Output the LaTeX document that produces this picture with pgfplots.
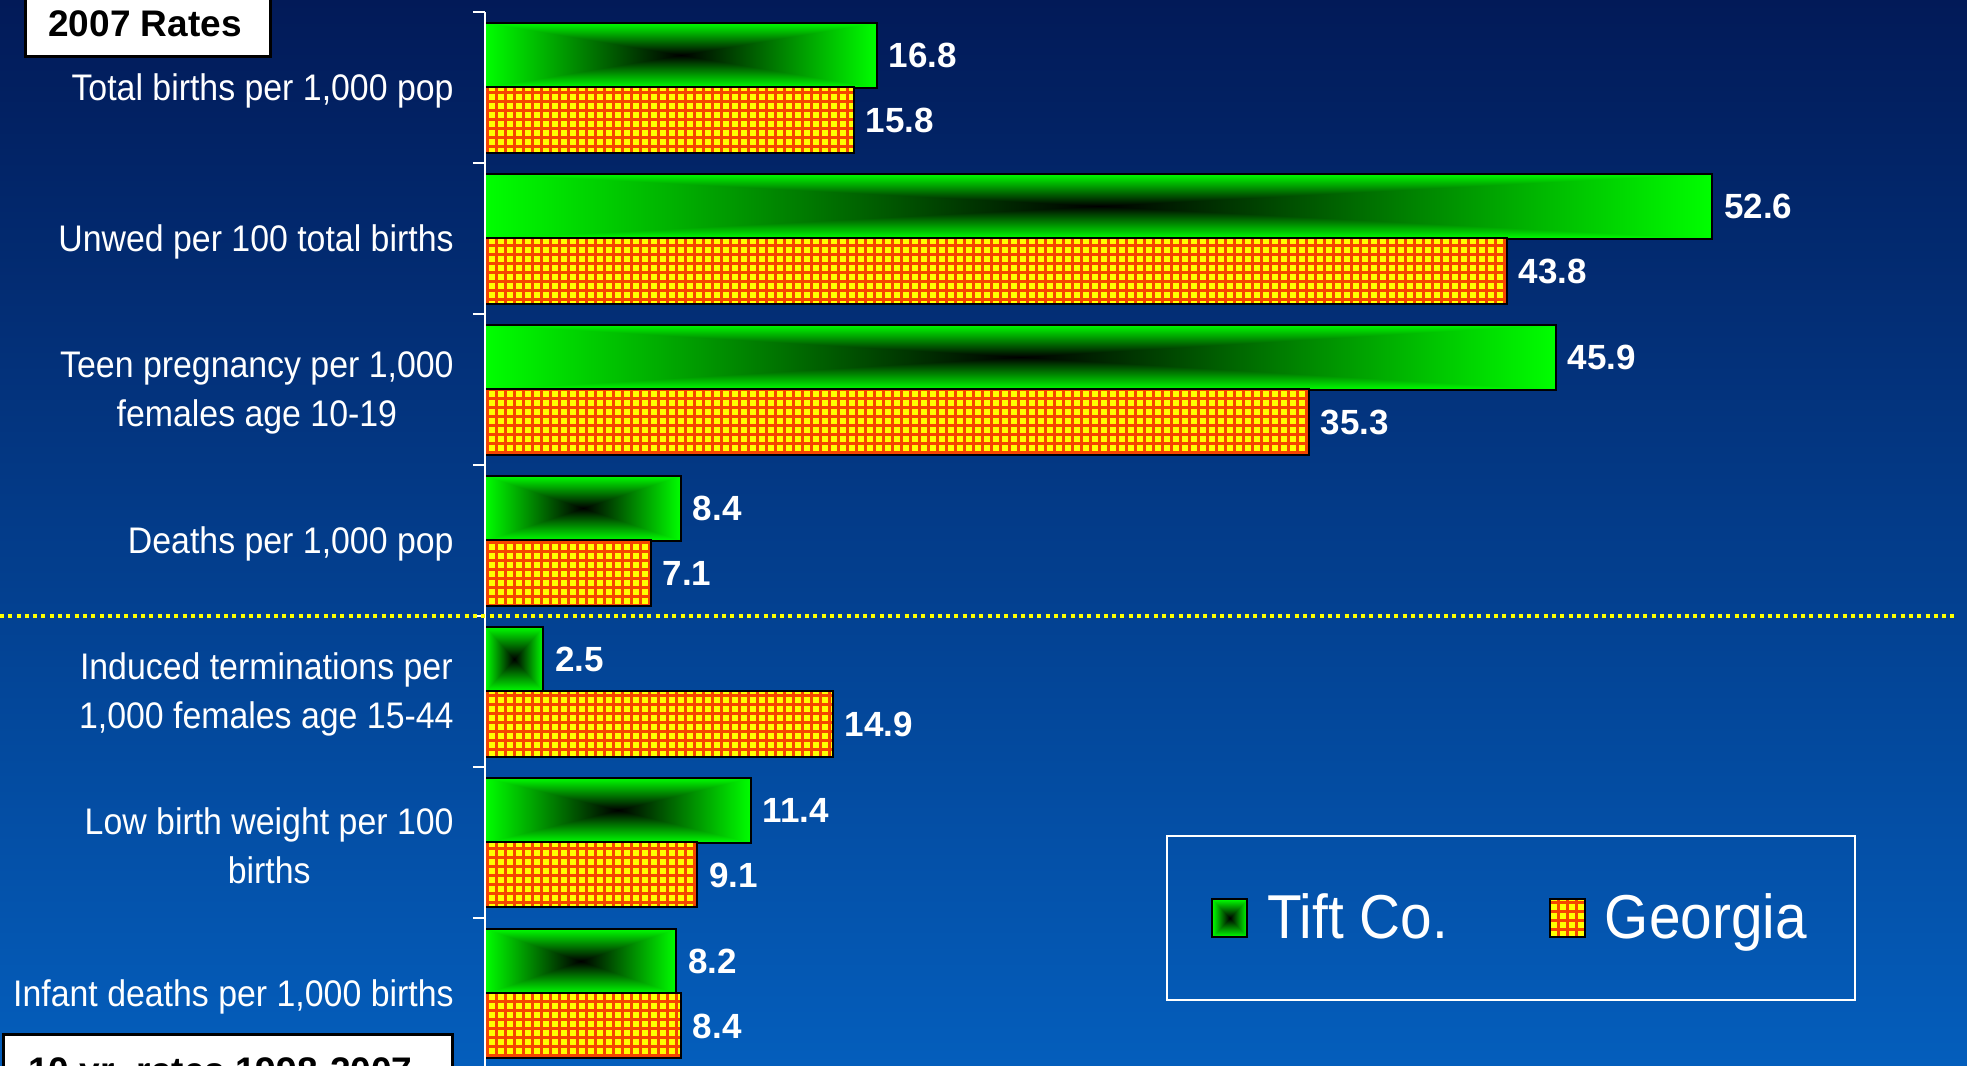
\documentclass[border=0pt]{standalone}
\usepackage{fontspec}
\setmainfont{Liberation Sans}
\newfontfamily\narrow[FakeStretch=0.915]{Liberation Sans}
\usepackage{pgfplots}
\pgfplotsset{compat=1.18}
\usetikzlibrary{patterns}

\definecolor{bgtop}{RGB}{2,26,88}
\definecolor{bgbot}{RGB}{4,94,188}
\definecolor{cellyel}{RGB}{255,255,0}
\definecolor{cellred}{RGB}{245,70,0}
\definecolor{dotyel}{RGB}{255,255,0}

% green bars: dark centre, bright green edges (rectangular "from centre" gradient)
\pgfdeclarefunctionalshading{rectglow}{\pgfpoint{-50bp}{-50bp}}{\pgfpoint{50bp}{50bp}}{}{
  abs exch abs 2 copy lt {exch} if pop 25 div dup 1 gt {pop 1} if 0 exch 0
}

% orange bars: small red grid on yellow
\pgfdeclarepatternformonly{cellgrid}{\pgfpoint{-0.1pt}{-0.1pt}}{\pgfpoint{4.6pt}{4.6pt}}{\pgfpoint{4.5pt}{4.5pt}}{%
  \pgfpathrectangle{\pgfpointorigin}{\pgfpoint{4.5pt}{1.4pt}}%
  \pgfpathrectangle{\pgfpointorigin}{\pgfpoint{1.4pt}{4.5pt}}%
  \pgfusepath{fill}}

\pgfplotsset{
  swatch/.style={legend image code/.code={\draw[##1, line width=1pt] (0pt,-9.4pt) rectangle (17.5pt,9.4pt);}},
  % one plot per green bar, so that each bar gets its own shading
  tift/.style={xbar, bar width=0.4305, bar shift=-0.2152, draw=black, line width=1pt,
    shade, shading=rectglow, swatch,
    every node near coord/.append style={yshift=16.25pt}},
}

\begin{document}
\begin{tikzpicture}
\useasboundingbox (0,0) rectangle (983.5pt,533pt);
\clip (0,0) rectangle (983.5pt,533pt);
\shade[top color=bgtop, bottom color=bgbot] (0,0) rectangle (983.5pt,533pt);

\begin{axis}[
    at={(242.5pt,533pt)}, anchor=north west,
    scale only axis,
    width=741pt, height=534.5pt,
    xmin=0, xmax=63.52,
    ymin=-0.5795, ymax=6.5,
    y dir=reverse,
    clip=false,
    axis line style={draw=none},
    xtick=\empty,
    ytick={-0.5,0.5,1.5,2.5,3.5,4.5,5.5,6.5},
    y tick label as interval,
    yticklabels={
        {Total births per 1,000 pop},
        {Unwed per 100 total births},
        {Teen pregnancy per 1,000\\females age 10-19},
        {Deaths per 1,000 pop},
        {Induced terminations per\\1,000 females age 15-44},
        {Low birth weight per 100\\births},
        {Infant deaths per 1,000 births}},
    ytick pos=left,
    tick align=outside,
    major tick length=6pt,
    tick style={white, line width=1pt},
    yticklabel style={font=\narrow\fontsize{18.5}{24.5}\selectfont, text=white,
        align=center, inner sep=0pt, xshift=-9.5pt, yshift=-1.5pt},
    point meta=x,
    nodes near coords={\pgfmathprintnumber[fixed,fixed zerofill,precision=1,assume math mode=true]{\pgfplotspointmeta}},
    nodes near coords align=horizontal,
    every node near coord/.append style={font=\bfseries\fontsize{17.5}{20}\selectfont,
        text=white, inner sep=0pt, anchor=west, xshift=5.5pt},
    legend columns=2,
    legend style={at={(0.6923,0.1413)}, anchor=center, draw=white, line width=1pt,
        fill=none, text=white, font=\narrow\fontsize{31}{34}\selectfont,
        inner xsep=22pt, inner ysep=27pt,
        /tikz/every odd column/.append style={column sep=7.5pt},
        /tikz/every even column/.append style={column sep=48.5pt}},
]

% Tift Co.
\addplot[tift] coordinates {(16.8,0)};
\addplot[tift, forget plot] coordinates {(52.6,1)};
\addplot[tift, forget plot] coordinates {(45.9,2)};
\addplot[tift, forget plot] coordinates {(8.4,3)};
\addplot[tift, forget plot] coordinates {(2.5,4)};
\addplot[tift, forget plot] coordinates {(11.4,5)};
\addplot[tift, forget plot] coordinates {(8.2,6)};

% Georgia
\addplot[xbar, bar width=0.4305, bar shift=0.2152, draw=black, line width=1pt,
    fill=cellyel, postaction={pattern=cellgrid, pattern color=cellred}, swatch,
    every node near coord/.append style={yshift=-16.25pt}]
    coordinates {(15.8,0) (43.8,1) (35.3,2) (7.1,3) (14.9,4) (9.1,5) (8.4,6)};

\legend{Tift Co., Georgia}

\draw[white, line width=1pt] (axis cs:0,-0.5) -- (axis cs:0,6.5);
\draw[dotyel, line width=2pt, dash pattern=on 2pt off 2.15pt] (axis cs:-20.79,3.5) -- (axis cs:63.1,3.5);
\end{axis}

% caption boxes, top left and (cut off) bottom left
\node[draw=black, line width=1.5pt, fill=white, minimum width=122.5pt, minimum height=33.5pt,
    inner sep=0pt] at (73.75pt,521.25pt) {};
\node[anchor=base west, inner sep=0pt, font=\bfseries\fontsize{18.5}{20}\selectfont]
    at (24pt,514.65pt) {2007 Rates};
\node[draw=black, line width=1.5pt, fill=white, minimum width=224.5pt, minimum height=32.5pt,
    inner sep=0pt] at (113.75pt,-0.75pt) {};
\node[anchor=base west, inner sep=0pt, font=\bfseries\fontsize{18.5}{20}\selectfont]
    at (14pt,-8.75pt) {10 yr. rates 1998-2007};
\end{tikzpicture}
\end{document}
